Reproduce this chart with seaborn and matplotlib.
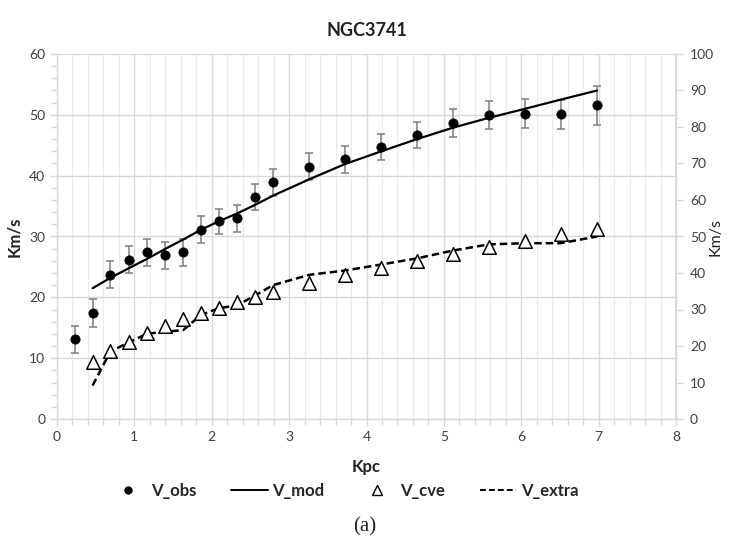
import numpy as np
import pandas as pd
import matplotlib
matplotlib.use("Agg")
import matplotlib.pyplot as plt
from matplotlib.lines import Line2D
from matplotlib.ticker import MultipleLocator
import seaborn as sns

# ---- data ----
r_obs = [0.23, 0.46, 0.69, 0.93, 1.16, 1.39, 1.63, 1.86, 2.09, 2.33, 2.56, 2.79,
         3.26, 3.72, 4.19, 4.65, 5.12, 5.58, 6.05, 6.51, 6.98]
v_obs = [13.1, 17.4, 23.7, 26.2, 27.4, 26.9, 27.4, 31.1, 32.5, 33.0, 36.5, 38.9,
         41.5, 42.7, 44.7, 46.7, 48.6, 50.0, 50.2, 50.1, 51.6]
v_err = [2.2, 2.3, 2.2, 2.2, 2.2, 2.2, 2.2, 2.2, 2.1, 2.2, 2.2, 2.2,
         2.2, 2.2, 2.2, 2.2, 2.3, 2.3, 2.4, 2.4, 3.2]

r_mod = [0.46, 0.69, 0.93, 1.16, 1.39, 1.63, 1.86, 2.09, 2.33, 2.56, 2.79,
         3.26, 3.72, 4.19, 4.65, 5.12, 5.58, 6.05, 6.51, 6.98]
v_mod = [21.5, 23.2, 24.8, 26.3, 27.9, 29.5, 31.1, 32.5, 33.8, 35.2, 36.7,
         39.4, 41.9, 44.0, 46.0, 47.9, 49.5, 51.0, 52.5, 54.0]
v_cve = [9.4, 11.2, 12.7, 14.1, 15.3, 16.4, 17.4, 18.3, 19.2, 20.0, 20.8,
         22.3, 23.7, 24.9, 26.0, 27.2, 28.3, 29.3, 30.4, 31.3]
v_extra = [5.5, 11.1, 12.6, 14.0, 14.35, 14.6, 17.1, 18.2, 18.7, 20.3, 22.0,
           23.7, 24.4, 25.4, 26.4, 27.7, 28.7, 28.9, 28.9, 30.0]

df_obs = pd.DataFrame({"r": r_obs, "v": v_obs, "e": v_err})
df_mod = pd.DataFrame({"r": r_mod, "mod": v_mod, "cve": v_cve, "extra": v_extra})

sns.set_theme(style="white")
plt.rcParams["font.family"] = ["Lato", "DejaVu Sans"]

fig = plt.figure(figsize=(7.29, 5.48), dpi=100)
ax = fig.add_axes([57/729, 1-419/548, (676-57)/729, (419-54)/548])

grid_major = "#d9d9d9"
grid_minor = "#ececec"
tick_col = "#404040"

# grid
ax.set_xlim(0, 8)
ax.set_ylim(0, 60)
ax.xaxis.set_major_locator(MultipleLocator(1))
ax.xaxis.set_minor_locator(MultipleLocator(0.2))
ax.yaxis.set_major_locator(MultipleLocator(10))
ax.yaxis.set_minor_locator(MultipleLocator(2))
ax.grid(which="major", axis="both", color=grid_major, lw=1.0, zorder=0)
ax.grid(which="minor", axis="x", color=grid_minor, lw=0.9, zorder=0)
ax.set_axisbelow(True)

ax.errorbar(df_obs["r"], df_obs["v"], yerr=df_obs["e"], fmt="none",
            ecolor="#7f7f7f", elinewidth=1.1, capsize=3, capthick=1.1, zorder=2)
sns.scatterplot(data=df_obs, x="r", y="v", ax=ax, color="black", s=45,
                edgecolor="black", linewidth=0.5, zorder=4, legend=False)
sns.lineplot(data=df_mod, x="r", y="mod", ax=ax, color="black", lw=1.6,
             zorder=3, legend=False)
sns.lineplot(data=df_mod, x="r", y="extra", ax=ax, color="black", lw=1.8,
             zorder=3, legend=False, linestyle=(0, (3, 1.6)))
sns.scatterplot(data=df_mod, x="r", y="cve", ax=ax, marker="^", s=95,
                facecolor="white", edgecolor="black", linewidth=1.1,
                zorder=5, legend=False)

ax.spines["top"].set_visible(False)
for s in ["left", "bottom", "right"]:
    ax.spines[s].set_color(grid_major)
    ax.spines[s].set_linewidth(1.0)

ax.tick_params(axis="both", which="both", direction="out", colors=grid_major,
               labelcolor=tick_col, labelsize=10)
ax.tick_params(axis="both", which="major", length=5, width=1, left=True, bottom=True)
ax.tick_params(axis="both", which="minor", length=4, width=1, left=True, bottom=True)
ax.set_xticks(range(0, 9))
ax.set_yticks(range(0, 61, 10))

ax.set_xlabel("Kpc", fontsize=12, fontweight="bold", color="#222222", labelpad=12)
ax.set_ylabel("Km/s", fontsize=12, fontweight="bold", color="#222222", labelpad=5)
ax.set_title("NGC3741", fontsize=13, fontweight="bold", color="#222222", pad=13)

ax2 = ax.twinx()
ax2.set_ylim(0, 100)
ax2.set_yticks(range(0, 101, 10))
ax2.tick_params(axis="y", direction="out", length=5, width=1, pad=5,
                colors=grid_major, labelcolor=tick_col, labelsize=10)
for s in ["top", "left", "bottom"]:
    ax2.spines[s].set_visible(False)
ax2.spines["right"].set_color(grid_major)
ax2.set_ylabel("Km/s", fontsize=11.5, color="#222222", rotation=90,
               va="center", ha="center")
ax2.yaxis.set_label_coords((715 - 57) / 619, 0.5)
ax2.grid(False)

handles = [
    Line2D([], [], marker="o", color="black", linestyle="none", markersize=5),
    Line2D([], [], color="black", lw=1.4),
    Line2D([], [], marker="^", markerfacecolor="white", markeredgecolor="black",
           linestyle="none", markersize=7),
    Line2D([], [], color="black", lw=1.4, linestyle=(0, (3, 1.6))),
]
labels = ["V_obs", "V_mod", "V_cve", "V_extra"]
leg = fig.legend(handles, labels, loc="center", bbox_to_anchor=(344/729, 1-491/548),
                 ncol=4, frameon=False, handlelength=2.2, columnspacing=2.1,
                 handletextpad=0.25, prop={"weight": "bold", "size": 12})

fig.text(0.5, 1-527/548, "(a)", ha="center", va="center", fontsize=15,
         family=["Liberation Serif", "DejaVu Serif"], color="#222222")

fig.savefig("out.png", dpi=100)
